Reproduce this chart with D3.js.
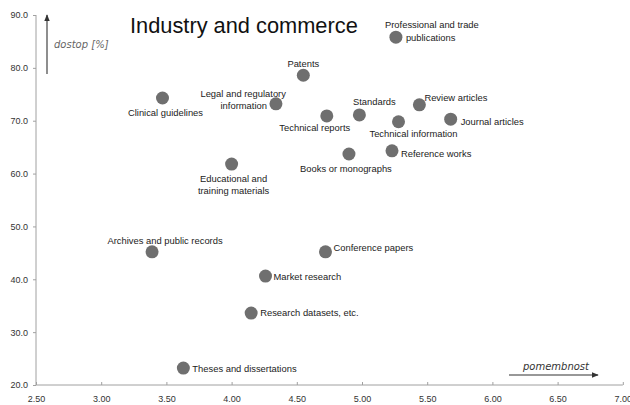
<!DOCTYPE html>
<html>
<head>
<meta charset="utf-8">
<script src="https://cdn.jsdelivr.net/npm/d3@7"></script>
<style>
  body { margin: 0; background: #fff; }
  svg { font-family: "Liberation Sans", Arial, sans-serif; }
  .axis path, .axis line { stroke: #a0a0a0; }
  .axis text { fill: #333; font-size: 9px; }
</style>
</head>
<body>
<div id="chart"></div>
<script>
// data
var names = [
  "Professional and trade publications", "Patents", "Legal and regulatory information",
  "Clinical guidelines", "Technical reports", "Standards", "Review articles",
  "Technical information", "Journal articles", "Educational and training materials",
  "Books or monographs", "Reference works", "Archives and public records",
  "Conference papers", "Market research", "Research datasets, etc.", "Theses and dissertations"
];
var importance = [5.26, 4.55, 4.34, 3.47, 4.73, 4.98, 5.44, 5.28, 5.68, 4.00, 4.90, 5.23, 3.39, 4.72, 4.26, 4.15, 3.63];
var access =     [85.8, 78.6, 73.2, 74.3, 70.9, 71.1, 73.0, 69.8, 70.3, 61.8, 63.7, 64.3, 45.2, 45.2, 40.6, 33.6, 23.2];
var xTicks = [2.5, 3.0, 3.5, 4.0, 4.5, 5.0, 5.5, 6.0, 6.5, 7.0];
var yTicks = [20, 30, 40, 50, 60, 70, 80, 90];

// label placement: lines, anchor, offsets from the dot
var labelLayout = [
  {lines: ["Professional and trade", "publications"], anchor: ["middle", "start"], dx: [36, 10], dy: [-9, 4]},
  {lines: ["Patents"], anchor: ["middle"], dx: [0], dy: [-8]},
  {lines: ["Legal and regulatory", "information"], anchor: ["end", "end"], dx: [10, -9], dy: [-7, 5]},
  {lines: ["Clinical guidelines"], anchor: ["middle"], dx: [3], dy: [18]},
  {lines: ["Technical reports"], anchor: ["middle"], dx: [-12], dy: [15]},
  {lines: ["Standards"], anchor: ["middle"], dx: [15], dy: [-10]},
  {lines: ["Review articles"], anchor: ["start"], dx: [5], dy: [-4]},
  {lines: ["Technical information"], anchor: ["middle"], dx: [15], dy: [15]},
  {lines: ["Journal articles"], anchor: ["start"], dx: [10], dy: [6]},
  {lines: ["Educational and", "training materials"], anchor: ["middle", "middle"], dx: [2, 2], dy: [18, 30]},
  {lines: ["Books or monographs"], anchor: ["middle"], dx: [-3], dy: [18]},
  {lines: ["Reference works"], anchor: ["start"], dx: [9], dy: [6]},
  {lines: ["Archives and public records"], anchor: ["middle"], dx: [13], dy: [-8]},
  {lines: ["Conference papers"], anchor: ["start"], dx: [8], dy: [-1]},
  {lines: ["Market research"], anchor: ["start"], dx: [8], dy: [4]},
  {lines: ["Research datasets, etc."], anchor: ["start"], dx: [9], dy: [3]},
  {lines: ["Theses and dissertations"], anchor: ["start"], dx: [9], dy: [4]}
];

var W = 630, H = 405;
var margin = {top: 15, right: 7, bottom: 20, left: 36};

var svg = d3.select("#chart").append("svg")
  .attr("width", W).attr("height", H);

var x = d3.scaleLinear().domain([2.5, 7.0]).range([margin.left, 622.8]);
var y = d3.scaleLinear().domain([20, 90]).range([H - margin.bottom, margin.top]);

// axes
svg.append("g")
  .attr("class", "axis")
  .attr("transform", "translate(0," + y(20) + ")")
  .call(d3.axisBottom(x).tickValues(xTicks).tickFormat(d3.format(".2f")).tickSize(-3).tickSizeOuter(0).tickPadding(11))
  .call(g => g.select(".domain").attr("d", "M" + x(2.5) + ",0H" + x(7.0)));

svg.append("g")
  .attr("class", "axis")
  .attr("transform", "translate(" + x(2.5) + ",0)")
  .call(d3.axisLeft(y).tickValues(yTicks).tickFormat(d3.format(".1f")).tickSize(3).tickSizeOuter(0).tickPadding(5))
  .call(g => g.select(".domain").attr("d", "M0," + y(90) + "V" + y(20)));

// arrow heads
var defs = svg.append("defs");
defs.append("marker")
  .attr("id", "arrow")
  .attr("viewBox", "0 0 10 10")
  .attr("refX", 9).attr("refY", 5)
  .attr("markerWidth", 6).attr("markerHeight", 6)
  .attr("orient", "auto")
  .append("path")
  .attr("d", "M0,1L10,5L0,9Z")
  .attr("fill", "#333");

// axis hints
svg.append("line")
  .attr("x1", 47).attr("y1", 74).attr("x2", 47).attr("y2", 15)
  .attr("stroke", "#444").attr("stroke-width", 1.2)
  .attr("marker-end", "url(#arrow)");
svg.append("text")
  .attr("x", 54).attr("y", 48)
  .attr("font-size", 10).attr("font-style", "italic")
  .attr("fill", "#666")
  .attr("font-family", "'DejaVu Sans', sans-serif")
  .text("dostop [%]");

svg.append("line")
  .attr("x1", 509).attr("y1", 375).attr("x2", 598).attr("y2", 375)
  .attr("stroke", "#333").attr("stroke-width", 1.2)
  .attr("marker-end", "url(#arrow)");
svg.append("text")
  .attr("x", 556).attr("y", 370)
  .attr("text-anchor", "middle")
  .attr("font-size", 10).attr("font-style", "italic")
  .attr("fill", "#333")
  .attr("font-family", "'DejaVu Sans', sans-serif")
  .text("pomembnost");

// title
svg.append("text")
  .attr("x", 130).attr("y", 33)
  .attr("font-size", 21.8)
  .attr("fill", "#111")
  .text("Industry and commerce");

// points
var data = names.map((n, i) => ({name: n, x: importance[i], y: access[i], lab: labelLayout[i]}));

svg.selectAll(".dot")
  .data(data)
  .enter()
  .append("circle")
  .attr("class", "dot")
  .attr("cx", d => x(d.x))
  .attr("cy", d => y(d.y))
  .attr("r", 6.5)
  .attr("fill", "#6f6f6f");

// labels
data.forEach(function(d) {
  d.lab.lines.forEach(function(line, j) {
    svg.append("text")
      .attr("x", x(d.x) + d.lab.dx[j])
      .attr("y", y(d.y) + d.lab.dy[j])
      .attr("text-anchor", d.lab.anchor[j])
      .attr("font-size", 9.4)
      .attr("fill", "#222")
      .text(line);
  });
});
</script>
</body>
</html>
